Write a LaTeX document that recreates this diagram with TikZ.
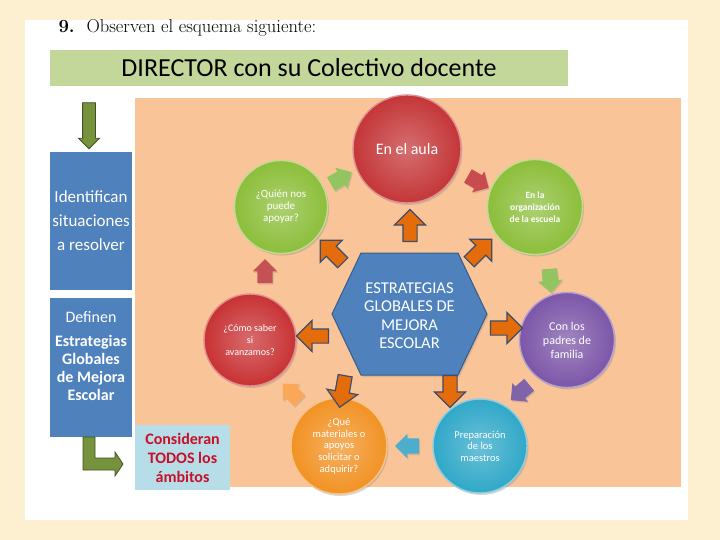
\documentclass[tikz,border=0pt]{standalone}
\usepackage{fontspec}
\setsansfont{Carlito}
\renewcommand{\familydefault}{\sfdefault}
\usetikzlibrary{shapes,shapes.arrows,shadows}

\definecolor{paper}{RGB}{252,240,208}
\definecolor{peach}{RGB}{249,196,152}
\definecolor{bannergreen}{RGB}{196,215,155}
\definecolor{boxblue}{RGB}{79,129,189}
\definecolor{hexrim}{RGB}{56,93,138}
\definecolor{skyblue}{RGB}{183,222,232}
\definecolor{darkred}{RGB}{200,16,40}
\definecolor{leafgreen}{RGB}{118,146,60}
\definecolor{aulared}{RGB}{196,54,56}
\definecolor{limegreen}{RGB}{140,190,58}
\definecolor{grapepurple}{RGB}{124,86,168}
\definecolor{tealblue}{RGB}{48,168,200}
\definecolor{pumpkin}{RGB}{242,146,36}
\definecolor{brickred}{RGB}{200,50,52}
\definecolor{innerorange}{RGB}{228,108,10}
\definecolor{arrowrim}{RGB}{60,78,110}
\definecolor{ringgreen}{RGB}{146,196,96}
\definecolor{ringred}{RGB}{200,76,78}
\definecolor{ringpurple}{RGB}{128,100,170}
\definecolor{ringteal}{RGB}{76,174,204}
\definecolor{ringorange}{RGB}{250,168,88}
\definecolor{ringbrick}{RGB}{196,82,84}

\tikzstyle{ringarrow}=[single arrow,inner sep=7.5pt,single arrow head extend=4.5pt,minimum height=24pt,drop shadow={opacity=0.25,shadow xshift=1pt,shadow yshift=-1.5pt}]
\tikzstyle{spokearrow}=[single arrow,inner sep=6.5pt,single arrow head extend=8.5pt,minimum height=32pt,fill=innerorange,draw=arrowrim,line width=1.2pt]
\tikzstyle{bluebox}=[rectangle,fill=boxblue,text=white,align=center,inner sep=0pt]
\tikzstyle{greenarrow}=[fill=leafgreen,draw=leafgreen!55!black,line width=0.8pt]
\tikzset{ball/.style={circle,inner sep=0pt,align=center,text=white,shading=radial,inner color=#1!72!white,outer color=#1,draw=#1!55!white,line width=1.4pt,drop shadow={opacity=0.3,shadow xshift=1.5pt,shadow yshift=-2pt}}}

\begin{document}
\begin{tikzpicture}[x=1pt, y=-1pt]
    \useasboundingbox (0,0) rectangle (720,540);
    \fill[paper] (0,0) rectangle (720,540);
    \fill[white] (25,20) rectangle (688,520);
    \fill[peach] (135,98) rectangle (681,487);

    \node[anchor=base west, font=\rmfamily\fontsize{18.5}{21}\selectfont] (titulo) at (55,33) {\makebox[28pt][l]{\textbf{9.}}Observen el esquema siguiente:};
    \node[fill=bannergreen, minimum width=518pt, minimum height=36pt, font=\fontsize{26}{30}\selectfont] (director) at (309,68) {DIRECTOR con su Colectivo docente};

    % columna izquierda
    \node[single arrow, greenarrow, rotate=-90, minimum height=46pt, inner sep=6pt, single arrow head extend=4pt] (bajada) at (89,122.5) {};
    \node[bluebox, minimum width=82pt, minimum height=138pt, font=\fontsize{17}{24}\selectfont] (identifican) at (91,221) {Identifican\\situaciones\\a resolver};
    \node[bluebox, minimum width=82pt, minimum height=139pt] (definen) at (91,367.5) {};
    \node[align=center, text=white, font=\fontsize{16}{18}\selectfont] (definentxt) at (91,356) {Definen\\[6pt]\textbf{Estrategias}\\\textbf{Globales}\\\textbf{de Mejora}\\\textbf{Escolar}};
    \draw[greenarrow] (83,437) -- (95,437) -- (95,458) -- (115,458) -- (115,452) -- (123,464) -- (115,476) -- (115,470) -- (83,470) -- cycle;
    \node[fill=skyblue, minimum width=95pt, minimum height=65pt, text=darkred, align=center, font=\bfseries\fontsize{16}{19}\selectfont] (consideran) at (182.5,457.5) {Consideran\\TODOS los\\ámbitos};

    % hexagono central
    \draw[fill=boxblue, draw=hexrim, line width=1pt, drop shadow={opacity=0.25,shadow xshift=1.5pt,shadow yshift=-2pt}] (332,314) -- (361,253) -- (458,253) -- (487,314) -- (458,375) -- (361,375) -- cycle;
    \node[text=white, align=center, font=\fontsize{16.5}{18.5}\selectfont] (estrategias) at (409.5,315.5) {ESTRATEGIAS\\GLOBALES DE\\MEJORA\\ESCOLAR};

    % ambitos
    \node[ball=aulared, minimum size=108pt, font=\fontsize{16}{18}\selectfont] (aula) at (407,149) {En el aula};
    \node[ball=limegreen, minimum size=93pt, font=\fontsize{11}{12}\selectfont] (quien) at (281,207) {¿Quién nos\\puede\\apoyar?};
    \node[ball=limegreen, minimum size=95pt, font=\bfseries\fontsize{9.5}{12}\selectfont] (organizacion) at (535,207) {En la\\organización\\de la escuela};
    \node[ball=grapepurple, minimum size=95pt, font=\fontsize{12}{14}\selectfont] (padres) at (567,340) {Con los\\padres de\\familia};
    \node[ball=tealblue, minimum size=94pt, font=\fontsize{10.5}{11.5}\selectfont] (maestros) at (480,446) {Preparación\\de los\\maestros};
    \node[ball=pumpkin, minimum size=96pt, font=\fontsize{10.5}{11.7}\selectfont] (materiales) at (339,446) {¿Qué\\materiales o\\apoyos\\solicitar o\\adquirir?};
    \node[ball=brickred, minimum size=92pt, font=\fontsize{10}{12}\selectfont] (avance) at (250,340) {¿Cómo saber\\si\\avanzamos?};

    % flechas del hexagono
    \foreach \pos/\ang/\name in {{(410,229)/90/sa}, {(334,254)/135/sb}, {(478,253)/45/sc}, {(503,328)/0/sd}, {(450,388)/-90/se}, {(343,388)/-100/sf}, {(316,336)/180/sg}}
        \node[spokearrow, rotate=\ang] (\name) at \pos {};

    % flechas del ciclo
    \foreach \pos/\ang/\col/\name in {{(338,180)/30/ringgreen/ra}, {(475,180)/-30/ringred/rb}, {(550,277)/-85/ringgreen/rc}, {(523,390)/-140/ringpurple/rd}, {(411,446)/180/ringteal/re}, {(294,395)/135/ringorange/rf}, {(265,275)/90/ringbrick/rg}}
        \node[ringarrow, fill=\col, rotate=\ang] (\name) at \pos {};

\end{tikzpicture}
\end{document}
